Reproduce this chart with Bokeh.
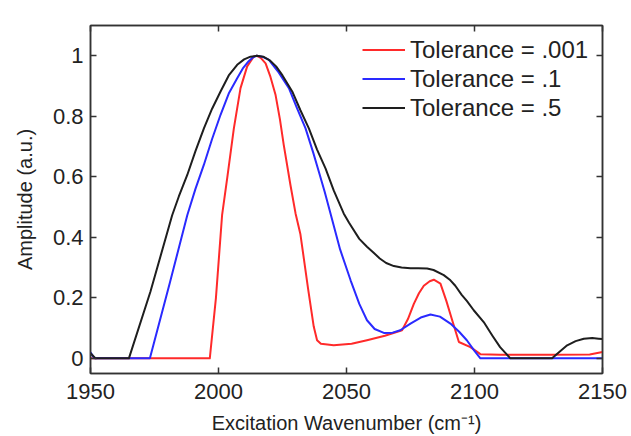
from bokeh.plotting import figure
from bokeh.models import Range1d, FixedTicker, LinearAxis, Legend, LegendItem, CustomJSTickFormatter
from bokeh.embed import file_html
from bokeh.resources import INLINE

# ---- data ----
x_ticks = [1950, 2000, 2050, 2100, 2150]
y_ticks = [0, 0.2, 0.4, 0.6, 0.8, 1]
series_names = ["Tolerance = .001", "Tolerance = .1", "Tolerance = .5"]

tol001_x = [1950, 1996.6, 1999, 2001.4, 2003.4, 2006, 2008.6, 2011.2, 2013.8, 2015, 2016.5,
            2018.4, 2020.3, 2022.3, 2024, 2025.5, 2028.1, 2030.1, 2032, 2035, 2037.2, 2038.5,
            2040, 2045, 2052, 2058, 2065, 2071.7, 2074, 2076.3, 2078.3, 2080.2, 2082.5,
            2084.1, 2086.7, 2089, 2091.5, 2093.9, 2098.4, 2102.3, 2110, 2130, 2145, 2150]
tol001_y = [0, 0, 0.2, 0.473, 0.596, 0.76, 0.893, 0.965, 0.998, 1.0, 0.993,
            0.975, 0.93, 0.87, 0.79, 0.705, 0.573, 0.479, 0.41, 0.23, 0.105, 0.06,
            0.048, 0.043, 0.048, 0.06, 0.075, 0.093, 0.13, 0.18, 0.215, 0.24, 0.255,
            0.26, 0.247, 0.19, 0.12, 0.054, 0.037, 0.014, 0.012, 0.012, 0.013, 0.021]

tol1_x = [1950, 1951.5, 1973.2, 1981, 1987.8, 1991, 1994.3, 1997.5, 2000.8, 2004, 2007.3,
          2009.5, 2011.8, 2013.5, 2015, 2017, 2019.6, 2023.5, 2027.5, 2030.5, 2034, 2037,
          2039.2, 2041.5, 2043.75, 2047.5, 2051.6, 2055, 2058, 2061, 2064.6, 2068, 2071,
          2075, 2079, 2082.8, 2086.5, 2090.6, 2094, 2097, 2100, 2102.3, 2150]
tol1_y = [0.02, 0, 0, 0.25, 0.473, 0.56, 0.64, 0.725, 0.805, 0.875, 0.926,
          0.958, 0.982, 0.995, 1.0, 0.997, 0.987, 0.945, 0.893, 0.83, 0.76, 0.68,
          0.617, 0.55, 0.479, 0.36, 0.258, 0.18, 0.126, 0.097, 0.084, 0.085, 0.093,
          0.115, 0.135, 0.145, 0.138, 0.115, 0.088, 0.06, 0.025, 0, 0]

tol5_x = [1950, 1952, 1965, 1973.4, 1981.9, 1984.5, 1987.8, 1991, 1994.3, 1997.5, 2000.8,
          2004, 2007.3, 2010, 2012.5, 2015, 2017.5, 2020, 2022.5, 2025, 2028.8, 2032,
          2035.3, 2038.5, 2041.8, 2045, 2048.9, 2051, 2055, 2058, 2060.5, 2063, 2065.5,
          2068.5, 2071.5, 2075, 2078, 2081.5, 2084, 2088, 2090.6, 2092.5, 2095, 2097,
          2099.7, 2103.6, 2107, 2110, 2114, 2130.3, 2133, 2136.2, 2139.5, 2142.7, 2146,
          2148.5, 2150]
tol5_y = [0.017, 0, 0, 0.22, 0.473, 0.535, 0.606, 0.685, 0.76, 0.825, 0.882,
          0.935, 0.97, 0.988, 0.997, 1.0, 0.997, 0.985, 0.965, 0.935, 0.882, 0.82,
          0.76, 0.69, 0.628, 0.555, 0.479, 0.448, 0.395, 0.369, 0.35, 0.33, 0.315,
          0.305, 0.3, 0.298, 0.298, 0.297, 0.292, 0.275, 0.258, 0.24, 0.21, 0.19,
          0.159, 0.12, 0.075, 0.037, 0, 0, 0.02, 0.043, 0.057, 0.065, 0.067,
          0.065, 0.064]

FONT = "Liberation Sans"
TXT = "#222222"
AX = "#333333"

p = figure(width=631, height=436, output_backend="svg", toolbar_location=None,
           x_range=Range1d(1950, 2150), y_range=Range1d(-0.05, 1.1),
           min_border_left=90, min_border_right=29, min_border_top=25, min_border_bottom=63,
           background_fill_color="white", border_fill_color="white")
p.grid.visible = False
p.outline_line_color = AX
p.outline_line_width = 1.5

r1 = p.line(tol001_x, tol001_y, line_color="#ff2a2a", line_width=2, line_join="round")
r2 = p.line(tol1_x, tol1_y, line_color="#2a2aff", line_width=2, line_join="round")
r3 = p.line(tol5_x, tol5_y, line_color="#1e1e1e", line_width=2, line_join="round")

yfmt = CustomJSTickFormatter(code="return String(Math.round(tick*10)/10);")
blank = CustomJSTickFormatter(code="return '';")

def style(ax):
    ax.axis_line_color = AX
    ax.axis_line_width = 1.5
    ax.major_tick_line_color = AX
    ax.major_tick_line_width = 1.5
    ax.major_tick_in = 6
    ax.major_tick_out = 0
    ax.minor_tick_in = 0
    ax.minor_tick_out = 0
    ax.major_label_text_font = FONT
    ax.major_label_text_color = TXT
    ax.axis_label_text_font = FONT
    ax.axis_label_text_color = TXT
    ax.axis_label_text_font_style = "normal"
    ax.axis_label_text_font_size = "20px"
    ax.major_label_text_font_size = "22px"

xa = p.xaxis[0]
xa.ticker = FixedTicker(ticks=x_ticks)
xa.axis_label = "Excitation Wavenumber (cm\u207b\u00b9)"
style(xa)
xa.major_label_standoff = 10
xa.axis_label_standoff = 10

ya = p.yaxis[0]
ya.ticker = FixedTicker(ticks=y_ticks)
ya.formatter = yfmt
ya.axis_label = "Amplitude (a.u.)"
style(ya)
ya.major_label_standoff = 7
ya.axis_label_standoff = 14

top = LinearAxis(ticker=FixedTicker(ticks=x_ticks), formatter=blank, major_label_standoff=0)
style(top)
top.major_label_text_font_size = "1px"
p.add_layout(top, "above")
right = LinearAxis(ticker=FixedTicker(ticks=y_ticks), formatter=blank, major_label_standoff=0)
style(right)
right.major_label_text_font_size = "1px"
p.add_layout(right, "right")

legend = Legend(items=[LegendItem(label=series_names[0], renderers=[r1]),
                       LegendItem(label=series_names[1], renderers=[r2]),
                       LegendItem(label=series_names[2], renderers=[r3])],
                location=(272, 251), border_line_color=None, background_fill_alpha=0,
                glyph_width=43, glyph_height=29, label_height=29, spacing=0,
                label_standoff=5, padding=5, margin=0,
                label_text_font=FONT, label_text_font_size="24px", label_text_color=TXT)
p.add_layout(legend)

open("out.html", "w").write(file_html(p, INLINE))
